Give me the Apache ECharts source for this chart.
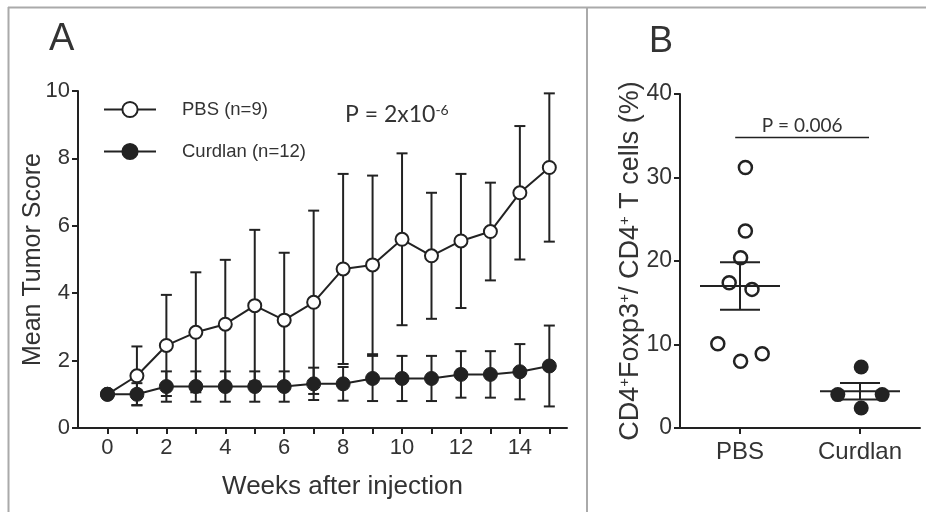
<!DOCTYPE html>
<html>
<head>
<meta charset="utf-8">
<script src="https://cdn.jsdelivr.net/npm/echarts@6/dist/echarts.min.js"></script>
<style>
  html, body { margin: 0; padding: 0; background: #fff; }
  #chart { width: 926px; height: 512px; }
</style>
</head>
<body>
<div id="chart"></div>
<script>
// Panel A: weekly tumor score, mean +/- SD
const weeks = [0, 1, 2, 3, 4, 5, 6, 7, 8, 9, 10, 11, 12, 13, 14, 15];
const weekLabels = [0, 2, 4, 6, 8, 10, 12, 14];
const pbsMean = [1.0, 1.55, 2.45, 2.84, 3.08, 3.63, 3.2, 3.73, 4.72, 4.84, 5.6, 5.11, 5.55, 5.83, 6.98, 7.73];
const pbsSD = [0, 0.87, 1.5, 1.78, 1.91, 2.25, 2.0, 2.72, 2.82, 2.65, 2.55, 1.87, 1.99, 1.45, 1.98, 2.2];
const curdMean = [1.0, 1.0, 1.23, 1.23, 1.23, 1.23, 1.23, 1.31, 1.31, 1.47, 1.47, 1.47, 1.59, 1.59, 1.67, 1.84];
const curdSD = [0, 0.33, 0.45, 0.45, 0.45, 0.45, 0.45, 0.48, 0.5, 0.67, 0.67, 0.67, 0.69, 0.69, 0.82, 1.2];

// Panel B: individual mice, mean +/- SEM
const groups = ['PBS', 'Curdlan'];
const groupX = [1, 3];
const pbsX = [1.09, 1.09, 1.01, 0.82, 1.2, 0.63, 1.01, 1.37];
const pbsY = [31.2, 23.6, 20.4, 17.4, 16.6, 10.1, 8.0, 8.9];
const curdX = [3.02, 2.63, 3.37, 3.02];
const curdY = [7.3, 4.0, 4.0, 2.4];
const groupMean = [17.0, 4.4];
const groupSEM = [2.85, 1.0];

const INK = '#222';
const TXT = '#333';
const FONT = '"Liberation Sans", Arial, sans-serif';
const CAL = 'Lato, "Open Sans", sans-serif';

const chart = echarts.init(document.getElementById('chart'));

function errBars(api) {
  const x = api.value(0), m = api.value(1), s = api.value(2);
  if (!s) return null;
  const top = api.coord([x, m + s]);
  const bot = api.coord([x, m - s]);
  const cw = 5.5;
  const st = { stroke: INK, lineWidth: 2 };
  return {
    type: 'group',
    children: [
      { type: 'line', shape: { x1: top[0], y1: top[1], x2: bot[0], y2: bot[1] }, style: st },
      { type: 'line', shape: { x1: top[0] - cw, y1: top[1], x2: top[0] + cw, y2: top[1] }, style: st },
      { type: 'line', shape: { x1: bot[0] - cw, y1: bot[1], x2: bot[0] + cw, y2: bot[1] }, style: st }
    ]
  };
}

const axisBase = {
  axisLine: { show: true, onZero: false, lineStyle: { color: INK, width: 2 } },
  axisTick: { show: true, inside: false, length: 6, lineStyle: { color: INK, width: 2 } },
  splitLine: { show: false },
  nameMoveOverlap: false,
  nameTextStyle: { color: TXT, fontFamily: FONT, fontSize: 25 }
};

const option = {
  backgroundColor: '#fff',
  animation: false,
  grid: [
    { left: 78, top: 91, width: 489, height: 337 },
    { left: 680, top: 94, width: 240, height: 334 }
  ],
  legend: {
    left: 98,
    top: 95,
    orient: 'vertical',
    itemWidth: 52,
    itemHeight: 19,
    itemGap: 23,
    data: ['PBS (n=9)', 'Curdlan (n=12)'],
    textStyle: { color: TXT, fontFamily: FONT, fontSize: 18.5, padding: [0, 0, 0, 21] }
  },
  xAxis: [
    {
      ...axisBase,
      gridIndex: 0,
      type: 'value',
      min: -1,
      max: 15.6,
      axisTick: { ...axisBase.axisTick, customValues: weeks },
      axisLabel: { customValues: weekLabels, margin: 9, color: TXT, fontFamily: FONT, fontSize: 22 },
      name: 'Weeks after injection',
      nameLocation: 'middle',
      nameGap: 46,
      nameTextStyle: { ...axisBase.nameTextStyle, fontSize: 26, padding: [0, 0, 0, 40] }
    },
    {
      ...axisBase,
      gridIndex: 1,
      type: 'value',
      min: 0,
      max: 4,
      axisTick: { ...axisBase.axisTick, customValues: groupX },
      axisLabel: {
        customValues: groupX,
        margin: 12,
        color: TXT,
        fontFamily: FONT,
        fontSize: 24,
        formatter: (v) => groups[groupX.indexOf(v)]
      }
    }
  ],
  yAxis: [
    {
      ...axisBase,
      gridIndex: 0,
      type: 'value',
      min: 0,
      max: 10,
      interval: 2,
      axisLabel: { margin: 8, color: TXT, fontFamily: FONT, fontSize: 22 },
      name: 'Mean Tumor Score',
      nameLocation: 'middle',
      nameGap: 32
    },
    {
      ...axisBase,
      gridIndex: 1,
      type: 'value',
      min: 0,
      max: 40,
      interval: 10,
      axisLabel: { margin: 8, color: TXT, fontFamily: FONT, fontSize: 23 },
      name: '{n|CD4}{s|+}{n|Foxp3}{s|+}{n|/ CD4}{s|+}{n| T cells (%)}',
      nameLocation: 'middle',
      nameGap: 36,
      nameTextStyle: {
        color: TXT,
        fontFamily: FONT,
        rich: {
          n: { fontSize: 27, fontFamily: FONT, color: TXT },
          s: { fontSize: 15, fontFamily: FONT, color: TXT, verticalAlign: 'top' }
        }
      }
    }
  ],
  graphic: [
    { type: 'line', shape: { x1: 8, y1: 7.5, x2: 926, y2: 7.5 }, style: { stroke: '#aaa', lineWidth: 2 } },
    { type: 'line', shape: { x1: 8.5, y1: 7, x2: 8.5, y2: 512 }, style: { stroke: '#aaa', lineWidth: 2 } },
    { type: 'line', shape: { x1: 587, y1: 7, x2: 587, y2: 512 }, style: { stroke: '#aaa', lineWidth: 2 } },
    { type: 'text', left: 49, top: 21, style: { text: 'A', fill: TXT, font: '38px ' + FONT } },
    { type: 'text', left: 649, top: 24, style: { text: 'B', fill: TXT, font: '36px ' + FONT } },
    {
      type: 'text', left: 345, top: 103,
      style: {
        text: '{p|P = 2x10}{e|-6}',
        rich: {
          p: { fontSize: 23, fontFamily: CAL, fill: TXT },
          e: { fontSize: 14, fontFamily: CAL, fill: TXT, verticalAlign: 'top' }
        }
      }
    }
  ],
  series: [
    {
      type: 'custom', xAxisIndex: 0, yAxisIndex: 0, z: 1,
      renderItem: (params, api) => errBars(api),
      data: weeks.map((w, i) => [w, pbsMean[i], pbsSD[i]])
    },
    {
      type: 'custom', xAxisIndex: 0, yAxisIndex: 0, z: 1,
      renderItem: (params, api) => errBars(api),
      data: weeks.map((w, i) => [w, curdMean[i], curdSD[i]])
    },
    {
      name: 'PBS (n=9)', type: 'line', xAxisIndex: 0, yAxisIndex: 0, z: 3,
      symbol: 'circle', symbolSize: 13,
      lineStyle: { color: INK, width: 2 },
      itemStyle: { color: '#fff', borderColor: INK, borderWidth: 2 },
      data: weeks.map((w, i) => [w, pbsMean[i]])
    },
    {
      name: 'Curdlan (n=12)', type: 'line', xAxisIndex: 0, yAxisIndex: 0, z: 4,
      symbol: 'circle', symbolSize: 14,
      lineStyle: { color: INK, width: 2 },
      itemStyle: { color: INK, borderColor: INK, borderWidth: 1 },
      data: weeks.map((w, i) => [w, curdMean[i]])
    },
    {
      type: 'custom', xAxisIndex: 1, yAxisIndex: 1, z: 2,
      renderItem: (params, api) => {
        const x = api.value(0), m = api.value(1), s = api.value(2);
        const c = api.coord([x, m]);
        const top = api.coord([x, m + s]);
        const bot = api.coord([x, m - s]);
        const st = { stroke: INK, lineWidth: 2 };
        return {
          type: 'group',
          children: [
            { type: 'line', shape: { x1: c[0] - 40, y1: c[1], x2: c[0] + 40, y2: c[1] }, style: st },
            { type: 'line', shape: { x1: top[0], y1: top[1], x2: bot[0], y2: bot[1] }, style: st },
            { type: 'line', shape: { x1: top[0] - 20, y1: top[1], x2: top[0] + 20, y2: top[1] }, style: st },
            { type: 'line', shape: { x1: bot[0] - 20, y1: bot[1], x2: bot[0] + 20, y2: bot[1] }, style: st }
          ]
        };
      },
      data: groupX.map((g, i) => [g, groupMean[i], groupSEM[i]])
    },
    {
      type: 'scatter', xAxisIndex: 1, yAxisIndex: 1, z: 3,
      symbolSize: 13,
      itemStyle: { color: 'rgba(0,0,0,0)', borderColor: INK, borderWidth: 2.5, opacity: 1 },
      data: pbsX.map((x, i) => [x, pbsY[i]])
    },
    {
      type: 'scatter', xAxisIndex: 1, yAxisIndex: 1, z: 3,
      symbolSize: 15,
      itemStyle: { color: INK, opacity: 1 },
      data: curdX.map((x, i) => [x, curdY[i]])
    },
    {
      type: 'custom', xAxisIndex: 1, yAxisIndex: 1, z: 2,
      renderItem: (params, api) => {
        const a = api.coord([api.value(0), api.value(2)]);
        const b = api.coord([api.value(1), api.value(2)]);
        return {
          type: 'group',
          children: [
            { type: 'line', shape: { x1: a[0], y1: a[1], x2: b[0], y2: b[1] }, style: { stroke: INK, lineWidth: 1.5 } },
            {
              type: 'text', x: (a[0] + b[0]) / 2, y: a[1] - 2,
              style: { text: 'P = 0.006', fill: TXT, font: '19px ' + CAL, textAlign: 'center', textVerticalAlign: 'bottom' }
            }
          ]
        };
      },
      data: [[0.92, 3.15, 34.8]]
    }
  ]
};

chart.setOption(option);
</script>
</body>
</html>
